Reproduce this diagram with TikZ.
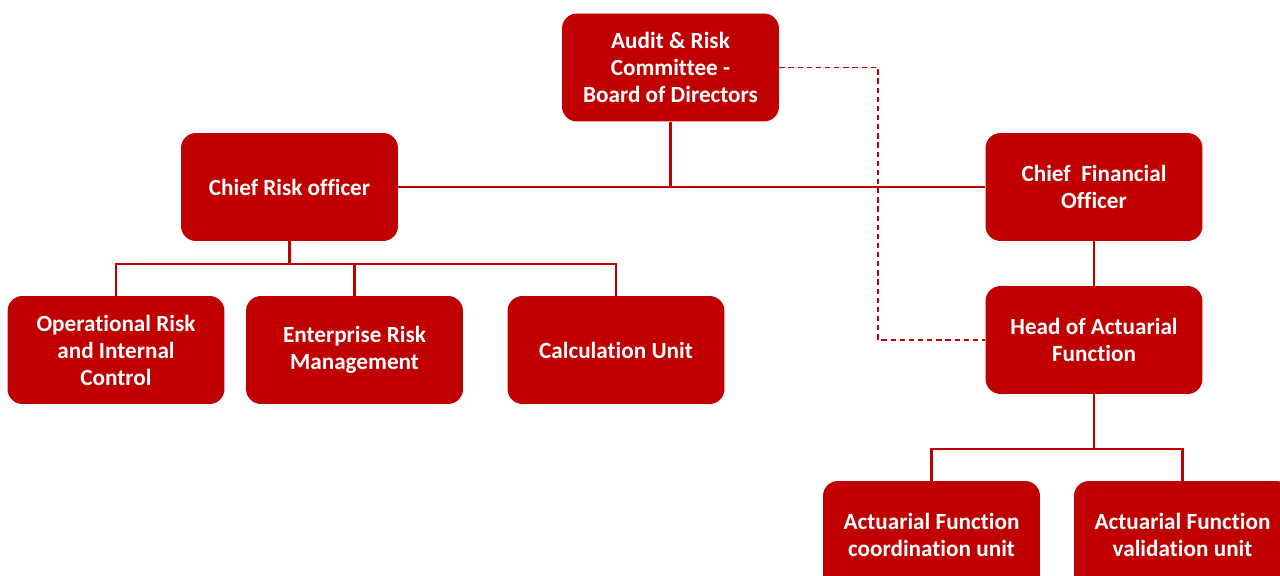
\documentclass[tikz,border=0pt]{standalone}
\usepackage{fontspec}
\setmainfont[Ligatures=NoCommon]{Carlito}
\tikzset{
  unitbox/.style={draw=none, fill=riskred, rounded corners=0.3cm, text=white,
    minimum width=4.34cm, minimum height=2.16cm, align=center,
    font=\fontsize{13.2}{15.4}\selectfont\bfseries},
  link/.style={draw=riskred, line width=1.3pt},
  dotlink/.style={draw=riskred, line width=0.9pt, dash pattern=on 3pt off 2.2pt}
}
\definecolor{riskred}{HTML}{C00000}
\begin{document}
\begin{tikzpicture}[x=0.02cm, y=-0.02cm]
  \useasboundingbox (0,0) rectangle (1280,575);
  % boxes
  \node[unitbox] (audit) at (670.5,67.5) {Audit \& Risk\\Committee -\\Board of Directors};
  \node[unitbox] (cro) at (289.5,187) {Chief Risk officer};
  \node[unitbox] (cfo) at (1094,187) {Chief\ \ Financial\\Officer};
  \node[unitbox] (orc) at (116,350) {Operational Risk\\and Internal\\Control};
  \node[unitbox] (erm) at (354.5,350) {Enterprise Risk\\Management};
  \node[unitbox] (calc) at (616,350) {Calculation Unit};
  \node[unitbox] (haf) at (1094,340) {Head of Actuarial\\Function};
  \node[unitbox] (coord) at (931.5,535) {Actuarial Function\\coordination unit};
  \node[unitbox] (valid) at (1182.5,535) {Actuarial Function\\validation unit};
  % solid lines
  \draw[link] (cro.east) -- (cfo.west);
  \draw[link] (audit.south) -- (audit.south |- cro.east);
  \coordinate (crofork) at (289.5,264);
  \draw[link] (cro.south) -- (crofork);
  \draw[link] (crofork) -| (orc.north);
  \draw[link] (crofork) -| (erm.north);
  \draw[link] (crofork) -| (calc.north);
  \draw[link] (cfo.south) -- (haf.north);
  \coordinate (haffork) at (1094,449);
  \draw[link] (haf.south) -- (haffork);
  \draw[link] (haffork) -| (coord.north);
  \draw[link] (haffork) -| (valid.north);
  % dashed line
  \coordinate (dashcorner) at (878,67.5);
  \draw[dotlink] (audit.east) -- (dashcorner) |- (haf.west);
\end{tikzpicture}
\end{document}
